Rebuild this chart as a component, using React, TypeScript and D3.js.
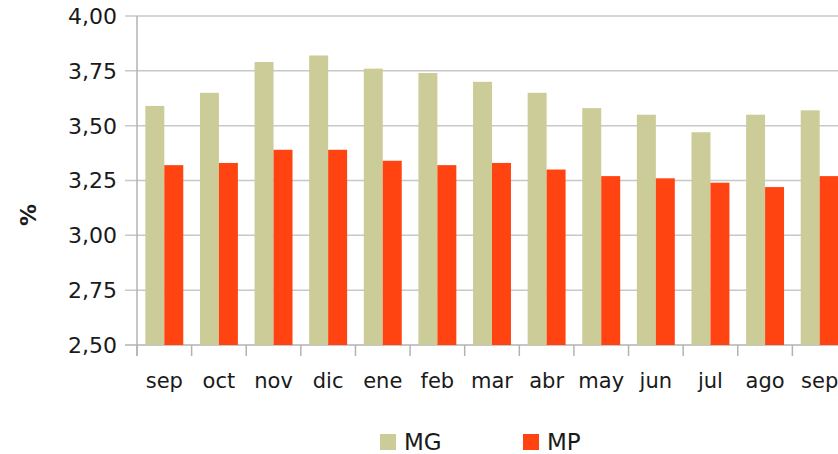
import React, { useRef, useEffect } from "react";
import * as d3 from "d3";

const months = ["sep", "oct", "nov", "dic", "ene", "feb", "mar", "abr", "may", "jun", "jul", "ago", "sep "];
const seriesNames = ["MG", "MP"];
const mgValues = [3.59, 3.65, 3.79, 3.82, 3.76, 3.74, 3.7, 3.65, 3.58, 3.55, 3.47, 3.55, 3.57];
const mpValues = [3.32, 3.33, 3.39, 3.39, 3.34, 3.32, 3.33, 3.3, 3.27, 3.26, 3.24, 3.22, 3.27];
const yTicks = [2.5, 2.75, 3.0, 3.25, 3.5, 3.75, 4.0];
const colors = ["#cccc99", "#ff4411"];

const W = 838;
const H = 454;
const FONT = "'DejaVu Sans', sans-serif";

export default function App() {
  const svgRef = useRef<SVGSVGElement>(null);

  useEffect(() => {
    const margin = { top: 16, right: -9, bottom: 109, left: 137 };
    const svg = d3.select(svgRef.current);
    svg.selectAll("*").remove();

    const x = d3
      .scaleBand()
      .domain(months)
      .range([margin.left, W - margin.right]);

    const xInner = d3
      .scaleBand()
      .domain(seriesNames)
      .range([0, x.bandwidth()])
      .paddingOuter(0.44)
      .paddingInner(0);

    const y = d3
      .scaleLinear()
      .domain([2.5, 4])
      .range([H - margin.bottom, margin.top]);

    const fmt = (v: number) => d3.format(".2f")(v).replace(".", ",");

    // gridlines
    svg
      .append("g")
      .selectAll("line")
      .data(yTicks)
      .join("line")
      .attr("x1", margin.left - 12)
      .attr("x2", W)
      .attr("y1", (d) => y(d))
      .attr("y2", (d) => y(d))
      .attr("stroke", (d) => (d === 2.5 ? "#b3b3b3" : "#c8c8c8"))
      .attr("stroke-width", 1.5);

    // y labels
    svg
      .append("g")
      .selectAll("text")
      .data(yTicks)
      .join("text")
      .attr("x", margin.left - 20)
      .attr("y", (d) => y(d))
      .attr("dy", "0.36em")
      .attr("text-anchor", "end")
      .attr("font-family", FONT)
      .attr("font-size", 22)
      .attr("fill", "#1a1a1a")
      .text((d) => fmt(d));

    // bars
    const data = months.map((m, i) => ({ m, vals: [mgValues[i], mpValues[i]] }));
    svg
      .append("g")
      .selectAll("g")
      .data(data)
      .join("g")
      .attr("transform", (d) => `translate(${x(d.m)},0)`)
      .selectAll("rect")
      .data((d) => d.vals.map((v, j) => ({ key: seriesNames[j], v, j })))
      .join("rect")
      .attr("x", (d) => xInner(d.key)!)
      .attr("width", xInner.bandwidth())
      .attr("y", (d) => y(d.v))
      .attr("height", (d) => y(2.5) - y(d.v))
      .attr("fill", (d) => colors[d.j]);

    // y axis line
    svg
      .append("line")
      .attr("x1", margin.left)
      .attr("x2", margin.left)
      .attr("y1", margin.top)
      .attr("y2", y(2.5) + 11)
      .attr("stroke", "#b3b3b3")
      .attr("stroke-width", 1.5);

    // x axis ticks
    const bounds = months.map((m) => x(m)!).concat([x(months[months.length - 1])! + x.bandwidth()]);
    svg
      .append("g")
      .selectAll("line")
      .data(bounds)
      .join("line")
      .attr("x1", (d) => d)
      .attr("x2", (d) => d)
      .attr("y1", y(2.5))
      .attr("y2", y(2.5) + 11)
      .attr("stroke", "#b3b3b3")
      .attr("stroke-width", 1.5);

    // x labels
    svg
      .append("g")
      .selectAll("text")
      .data(months)
      .join("text")
      .attr("x", (d) => x(d)! + x.bandwidth() / 2)
      .attr("y", 388)
      .attr("text-anchor", "middle")
      .attr("font-family", FONT)
      .attr("font-size", 21)
      .attr("fill", "#1a1a1a")
      .text((d) => d.trim());

    // y title
    svg
      .append("text")
      .attr("transform", `translate(36,${215}) rotate(-90)`)
      .attr("text-anchor", "middle")
      .attr("font-family", FONT)
      .attr("font-size", 22)
      .attr("font-weight", "bold")
      .attr("fill", "#1a1a1a")
      .text("%");

    // legend
    const legendX = [380, 523];
    const lg = svg
      .append("g")
      .selectAll("g")
      .data(seriesNames)
      .join("g")
      .attr("transform", (d, i) => `translate(${legendX[i]},434)`);
    lg.append("rect")
      .attr("width", 16)
      .attr("height", 16)
      .attr("fill", (d, i) => colors[i]);
    lg.append("text")
      .attr("x", 24)
      .attr("y", 16)
      .attr("font-family", FONT)
      .attr("font-size", 23)
      .attr("fill", "#1a1a1a")
      .text((d) => d);
  }, []);

  return (
    <svg
      ref={svgRef}
      width={W}
      height={H}
      style={{ position: "absolute", left: 0, top: 0, background: "#fff" }}
    />
  );
}
